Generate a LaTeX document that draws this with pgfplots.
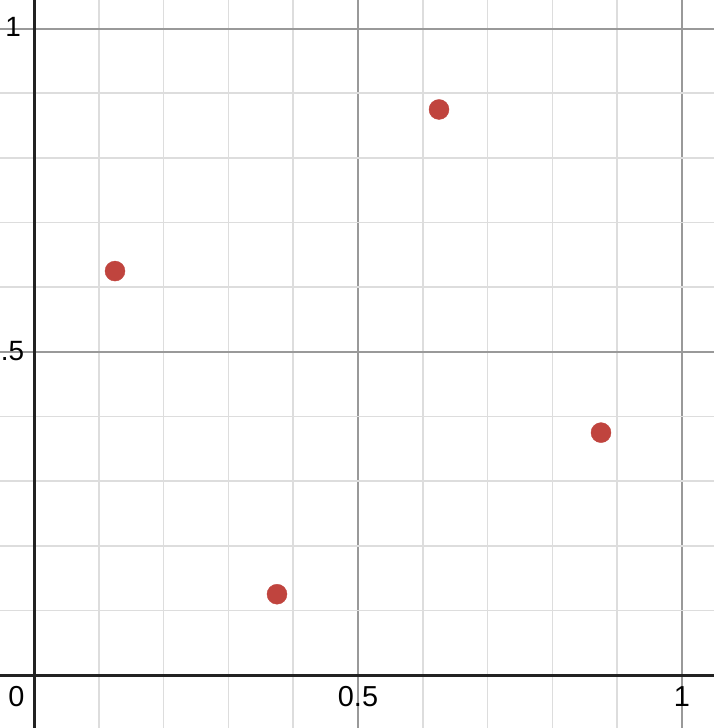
\documentclass[border=0pt]{standalone}
\usepackage{fontspec}
\setmainfont{Liberation Sans}
\usepackage{pgfplots}
\pgfplotsset{compat=1.18}
\definecolor{dred}{HTML}{C0443E}
\definecolor{majg}{HTML}{999999}
\definecolor{ming}{HTML}{DDDDDD}
\definecolor{axk}{HTML}{222222}
\begin{document}
\begin{tikzpicture}
\begin{axis}[
  width=714bp, height=728bp, scale only axis,
  xmin=-0.05247, xmax=1.04938,
  ymin=-0.0820, ymax=1.0444,
  axis lines=middle,
  axis line style={axk, line width=3bp, -},
  xtick={0,0.5,1}, ytick={0,0.5,1},
  minor xtick={0.1,0.2,0.3,0.4,0.6,0.7,0.8,0.9},
  minor ytick={0.1,0.2,0.3,0.4,0.6,0.7,0.8,0.9},
  xticklabels={}, yticklabels={},
  major tick length=0pt, minor tick length=0pt,
  grid=both,
  major grid style={majg, line width=1.7bp},
  minor grid style={ming, line width=1.7bp},
  clip=false,
]
\addplot[only marks, mark=*, mark size=10bp, mark options={draw=dred, fill=dred}] coordinates {
  (0.125,0.625) (0.375,0.125) (0.625,0.875) (0.875,0.375)
};
\node[font=\fontsize{29}{29}\selectfont, inner sep=0pt] at (axis cs:-0.027,-0.034) {0};
\node[font=\fontsize{29}{29}\selectfont, inner sep=0pt] at (axis cs:0.5,-0.034) {0.5};
\node[font=\fontsize{29}{29}\selectfont, inner sep=0pt] at (axis cs:1,-0.034) {1};
\node[font=\fontsize{28}{28}\selectfont, inner sep=0pt, anchor=east] at (axis cs:-0.020,1.002) {1};
\node[font=\fontsize{28}{28}\selectfont, inner sep=0pt, anchor=east] at (axis cs:-0.015,0.501) {0.5};
\end{axis}
\pgfresetboundingbox
\path (current axis.south west) rectangle (current axis.north east);
\end{tikzpicture}
\end{document}
